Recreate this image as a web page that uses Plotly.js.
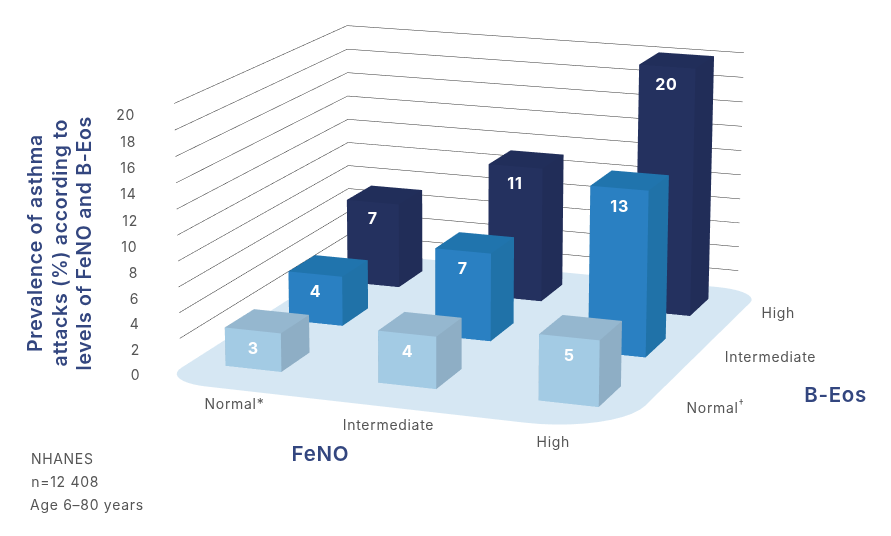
<!DOCTYPE html>
<html><head><meta charset="utf-8">
<script src="https://cdn.plot.ly/plotly-3.0.1.min.js"></script>
<style>html,body{margin:0;padding:0;background:#fff;overflow:hidden;width:891px;height:536px}
#c{position:absolute;left:0;width:891px}
#c svg text{letter-spacing:.7px}</style>
</head><body><div id="c"></div>
<script>
const fenoLabels = ['Normal*','Intermediate','High'];
const beosLabels = ['Normal<sup>†</sup>','Intermediate','High'];
const normalEos = [3,4,5];
const intermediateEos = [4,7,13];
const highEos = [7,11,20];
const zTicks = [0,2,4,6,8,10,12,14,16,18,20];
const gridTicks = [2,4,6,8,10,12,14,16,18,20];
const titleLines = ['Prevalence of asthma','attacks (%) according to','levels of FeNO and B-Eos'];
const noteLines = ['NHANES','n=12 408','Age 6–80 years'];
const rowColors = [
  {front:'#a3cbe4',top:'#95b7cf',side:'#8eaec5'},
  {front:'#2a80c2',top:'#2074ad',side:'#2072a8'},
  {front:'#24315f',top:'#212e5a',side:'#212d58'}
];
const plateColor = '#d6e7f3';
const textColor = '#555';
const navy = '#33467f';
const FONT = 'Inter, "Open Sans", sans-serif';
const axR=[-0.8,2.8];
const wallX=[-0.48,2.29], wallY=[-0.35,2.4];
const plateX=[-0.44,2.42], plateY=[-0.72,2.53];
const barX=[-0.055,0.945,1.955], barY=[-0.07,0,0], rowDX=[0.035,0,0];
const bw=0.185, bd=0.22;
const W=891,H=2512,VH=536,OFF=(H-VH)/2;
document.getElementById('c').style.top=(-OFF)+'px';
document.getElementById('c').style.height=H+'px';
const px=x=>x/W, py=y=>1-(y+OFF)/H;

const rows=[normalEos,intermediateEos,highEos];
const traces=[];
const flat={ambient:1,diffuse:0,specular:0,roughness:1,fresnel:0};
(function(){
  const ax=[],ay=[];
  const rf=0.55,rr=0.3,rb=0.3,rl=0.3;
  const cs=[[plateX[1]-rf,plateY[0]+rf,-90,rf],[plateX[1]-rr,plateY[1]-rr,0,rr],[plateX[0]+rb,plateY[1]-rb,90,rb],[plateX[0]+rl,plateY[0]+rl,180,rl]];
  cs.forEach(c=>{for(let k=0;k<=10;k++){const a=(c[2]+k*9)*Math.PI/180;ax.push(c[0]+c[3]*Math.cos(a));ay.push(c[1]+c[3]*Math.sin(a));}});
  const n=ax.length,i=[],j=[],k=[];
  for(let t=1;t<n-1;t++){i.push(0);j.push(t);k.push(t+1);}
  traces.push({type:'mesh3d',x:ax,y:ay,z:ax.map(()=>0),i,j,k,color:plateColor,flatshading:true,lighting:flat,hoverinfo:'skip',showscale:false});
})();
(function(){
  const gx=[],gy=[],gz=[];
  gridTicks.forEach(t=>{gx.push(wallX[0],wallX[0],wallX[1],null);gy.push(wallY[0],wallY[1],wallY[1],null);gz.push(t,t,t,null);});
  traces.push({type:'scatter3d',mode:'lines',x:gx,y:gy,z:gz,line:{color:'#333',width:1},hoverinfo:'skip',connectgaps:false});
})();
rows.forEach((vals,row)=>{
  vals.forEach((v,col)=>{
    const cx=barX[col]+rowDX[row];
    const x0=cx-bw,x1=cx+bw,y0=row+barY[row]-bd,y1=row+barY[row]+bd;
    const c=rowColors[row];
    traces.push({type:'mesh3d',
      x:[x0,x1,x1,x0,x0,x1,x1,x0],
      y:[y0,y0,y1,y1,y0,y0,y1,y1],
      z:[0,0,0,0,v,v,v,v],
      i:[0,0,1,1,4,4,3,3,0,0,2,2],
      j:[1,5,2,6,5,6,2,7,3,7,3,7],
      k:[5,4,6,5,6,7,7,4,7,4,7,6],
      facecolor:[c.front,c.front,c.side,c.side,c.top,c.top,c.side,c.side,c.side,c.side,c.side,c.side],
      flatshading:true,lighting:flat,hoverinfo:'skip',showscale:false});
  });
});
const sceneAnn=[];
const tickFont={family:FONT,size:14,color:textColor};
rows.forEach((vals,row)=>vals.forEach((v,col)=>{
  sceneAnn.push({x:barX[col]+rowDX[row],y:row+barY[row]-bd,z:v-Math.min(1.35,v/2),text:'<b>'+v+'</b>',showarrow:false,font:{family:FONT,size:16,color:'#fff'}});
}));
zTicks.forEach(t=>sceneAnn.push({x:wallX[0],y:wallY[0],z:t,text:String(t),showarrow:false,xanchor:'right',xshift:-38,yshift:-11,font:tickFont}));

const hidden={visible:true,showgrid:false,zeroline:false,showline:false,showticklabels:false,ticks:'',showbackground:false,showspikes:false,title:{text:''}};
const center={x:-0.3035,y:0.5732,z:-0.3163}, eye={x:2.2218,y:-6.2166,z:1.6247};
const titleX=[35,60,84];
const noteX=[62,64.5,86.5], noteY=[458,481,504];
const fenoX=[234,388,553], fenoY=[403,424,441];
const beosX=[715,770,778], beosY=[407,357,312];
const pa=(x,y,text,font,extra)=>Object.assign({xref:'paper',yref:'paper',x:px(x),y:py(y),xanchor:'center',yanchor:'middle',showarrow:false,text,font},extra||{});
const head={family:FONT,size:20.5,color:navy,weight:600};
const layout={
  width:W,height:H,margin:{l:0,r:0,t:0,b:0},paper_bgcolor:'rgba(0,0,0,0)',showlegend:false,
  font:{family:FONT,color:textColor},
  scene:{domain:{x:[0,1],y:[0,1]},aspectmode:'manual',aspectratio:{x:1.2882,y:1.2769,z:0.58},
    xaxis:Object.assign({},hidden,{range:axR}),
    yaxis:Object.assign({},hidden,{range:axR}),
    zaxis:Object.assign({},hidden,{range:[0,20]}),
    camera:{center,up:{x:0,y:0,z:1},eye},
    annotations:sceneAnn},
  annotations:[
    ...titleLines.map((t,i)=>pa(titleX[i],243,t,{family:FONT,size:19.5,color:navy,weight:600},{textangle:-90})),
    pa(320,453,'FeNO',head),
    pa(835,394,'B-Eos',head),
    ...noteLines.map((t,i)=>pa(noteX[i],noteY[i],t,tickFont)),
    ...fenoLabels.map((t,i)=>pa(fenoX[i],fenoY[i],t,tickFont)),
    ...beosLabels.map((t,i)=>pa(beosX[i],beosY[i],t,tickFont))
  ]
};
Plotly.newPlot('c',traces,layout,{displayModeBar:false});
</script></body></html>
